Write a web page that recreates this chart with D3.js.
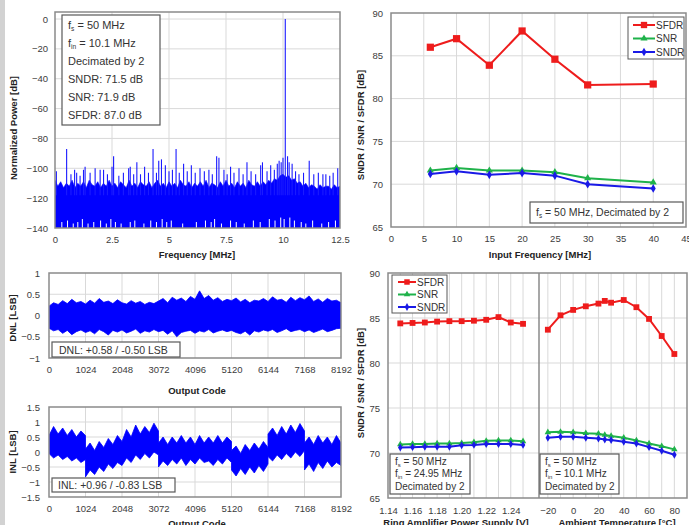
<!DOCTYPE html>
<html><head><meta charset="utf-8">
<script src="https://cdn.jsdelivr.net/npm/d3@7"></script>
<style>body{margin:0;background:#fff;} svg{display:block;font-family:"Liberation Sans",Arial,sans-serif;}</style>
</head><body><svg id="c" width="689" height="525"></svg>
<script>
// ---------- DATA ----------
const fftXTicks=[0,2.5,5,7.5,10,12.5];
const fftYTicks=[0,-20,-40,-60,-80,-100,-120,-140];
const fftBinStep=0.125;
const fftFloor=[
-108,-112,-109,-113,-110,-112,-108,-113,
-110,-112,-109,-113,-108,-111,-112,-109,
-113,-110,-112,-108,-112,-110,-113,-109,
-111,-113,-108,-112,-110,-113,-109,-111,
-112,-109,-113,-110,-108,-112,-110,-113,
-109,-112,-110,-113,-108,-111,-112,-109,
-113,-110,-112,-109,-112,-108,-113,-110,
-111,-113,-109,-112,-108,-112,-110,-113,
-109,-112,-110,-113,-108,-111,-112,-109,
-112,-109,-111,-108,-110,-107,-108,-105,
-104,-106,-105,-108,-107,-110,-109,-112,
-110,-113,-111,-112,-114,-111,-113,-112,
-112,-114,-111,-113,-112];
const fftSpurs=[[0.06,-102],[0.51,-87],[0.7,-104],[0.86,-101],[0.95,-103],[1.1,-105],[1.25,-101],[1.32,-99],[1.54,-103],[1.76,-100],[1.98,-101],[2.13,-101],[2.3,-104],[2.5,-99],[2.57,-92],[2.8,-105],[3.0,-103],[3.23,-100],[3.3,-99],[3.45,-104],[3.59,-96],[3.75,-104],[3.93,-99],[4.1,-103],[4.3,-87],[4.45,-103],[4.55,-95],[4.67,-94],[4.84,-98],[5.0,-102],[5.15,-101],[5.31,-87],[5.45,-103],[5.64,-97],[5.8,-102],[5.98,-98],[6.15,-103],[6.36,-100],[6.55,-102],[6.75,-101],[6.9,-104],[7.09,-92],[7.19,-93],[7.41,-101],[7.55,-104],[7.7,-99],[7.85,-103],[8.07,-100],[8.25,-104],[8.42,-96],[8.6,-102],[8.8,-104],[9.02,-98],[9.1,-96],[9.3,-102],[9.46,-98],[9.62,-101],[9.75,-97],[9.83,-95],[9.92,-96],[10.0,-93],[10.1,0],[10.2,-92],[10.27,-96],[10.4,-97],[10.55,-102],[10.7,-104],[10.9,-103],[11.15,-95],[11.35,-104],[11.55,-103],[11.75,-104],[11.88,-104],[12.05,-105],[12.2,-103],[12.4,-100]];
const fftDips=[[0.3,-136],[0.55,-135],[0.8,-137],[1.0,-136],[1.2,-134],[1.45,-137],[1.7,-136],[2.0,-135],[2.25,-137],[2.45,-134],[2.65,-136],[2.9,-137],[3.3,-136],[3.5,-135],[3.9,-137],[4.2,-135],[4.45,-136],[4.7,-134],[4.9,-136],[5.1,-135],[5.6,-137],[6.2,-136],[6.6,-135],[6.85,-136],[7.0,-134],[7.3,-137],[7.7,-135],[7.95,-136],[8.3,-137],[8.7,-135],[9.0,-136],[9.4,-134],[9.65,-135],[9.9,-133],[10.05,-134],[10.3,-133],[10.5,-135],[10.8,-136],[11.0,-137],[11.3,-135],[11.7,-137],[12.0,-136],[12.3,-135]];
const fftInfo=[["f","s"," = 50 MHz"],["f","in"," = 10.1 MHz"],["Decimated by 2"],["SNDR: 71.5 dB"],["SNR: 71.9 dB"],["SFDR: 87.0 dB"]];

const finTicks=[0,5,10,15,20,25,30,35,40,45];
const finYTicks=[65,70,75,80,85,90];
const finMHz=[6,10,15,20,25,30,40];
const finSFDR=[86.0,87.0,83.9,87.9,84.6,81.6,81.7];
const finSNR=[71.6,71.9,71.6,71.6,71.4,70.7,70.2];
const finSNDR=[71.2,71.5,71.1,71.3,71.0,70.0,69.5];

const codeTicks=[0,1024,2048,3072,4096,5120,6144,7168,8192];
const dnlYTicks=[-1,-0.5,0,0.5,1];
const dnlStep=128;
const dnlHi=[0.22,0.30,0.26,0.35,0.28,0.38,0.30,0.33,
0.27,0.36,0.29,0.40,0.31,0.34,0.28,0.37,
0.30,0.27,0.35,0.29,0.33,0.26,0.31,0.28,
0.34,0.40,0.30,0.43,0.36,0.41,0.33,0.45,
0.38,0.58,0.40,0.47,0.36,0.42,0.33,0.38,
0.35,0.41,0.32,0.38,0.30,0.36,0.34,0.40,
0.33,0.44,0.36,0.38,0.31,0.43,0.35,0.42,
0.37,0.46,0.33,0.39,0.31,0.40,0.34,0.36,0.30];
const dnlLo=[-0.30,-0.36,-0.33,-0.42,-0.35,-0.45,-0.38,-0.34,
-0.40,-0.36,-0.43,-0.33,-0.38,-0.46,-0.35,-0.39,
-0.34,-0.41,-0.37,-0.32,-0.42,-0.36,-0.39,-0.33,
-0.38,-0.35,-0.44,-0.36,-0.50,-0.40,-0.37,-0.35,
-0.42,-0.36,-0.39,-0.33,-0.41,-0.37,-0.34,-0.38,
-0.35,-0.40,-0.43,-0.37,-0.46,-0.36,-0.39,-0.34,
-0.37,-0.33,-0.40,-0.36,-0.31,-0.38,-0.35,-0.33,
-0.38,-0.34,-0.40,-0.36,-0.32,-0.38,-0.35,-0.31,-0.30];
const inlYTicks=[-1.5,-1,-0.5,0,0.5,1,1.5];
const inlEnv=[[0,-0.05,0.55],[128,-0.2,0.85],[256,-0.1,0.6],[384,-0.25,0.8],[512,-0.15,0.55],[640,-0.3,0.75],[768,-0.2,0.5],[896,-0.35,0.7],[1024,-0.25,0.55],
[1024,-0.83,0.1],[1152,-0.6,0.3],[1280,-0.75,0.05],[1408,-0.5,0.35],[1536,-0.65,0.15],[1664,-0.4,0.45],[1792,-0.55,0.25],[1920,-0.35,0.55],[2048,-0.45,0.35],[2176,-0.2,0.75],[2304,-0.35,0.5],[2432,-0.1,0.9],[2560,-0.25,0.6],[2688,-0.05,0.85],[2816,-0.2,0.65],[2944,0.0,0.96],[3072,-0.1,0.7],
[3072,-0.5,0.3],[3200,-0.3,0.5],[3328,-0.45,0.25],[3456,-0.25,0.5],[3584,-0.4,0.3],[3712,-0.2,0.55],[3840,-0.45,0.3],[3968,-0.25,0.5],[4096,-0.4,0.25],[4224,-0.2,0.55],[4352,-0.35,0.3],[4480,-0.3,0.5],[4608,-0.45,0.3],[4736,-0.25,0.55],[4864,-0.4,0.3],[4992,-0.2,0.5],[5120,-0.35,0.35],
[5120,-0.6,0.05],[5248,-0.8,0.2],[5376,-0.55,-0.05],[5504,-0.75,0.25],[5632,-0.5,0.05],[5760,-0.7,0.3],[5888,-0.45,0.1],[6016,-0.65,0.35],[6144,-0.4,0.15],
[6144,-0.15,0.6],[6272,-0.3,0.8],[6400,-0.1,0.55],[6528,-0.25,0.85],[6656,-0.05,0.6],[6784,-0.2,0.9],[6912,0.0,0.65],[7040,-0.15,0.95],[7168,0.05,0.7],
[7168,-0.6,0.3],[7296,-0.4,0.5],[7424,-0.65,0.25],[7552,-0.35,0.55],[7680,-0.55,0.3],[7808,-0.3,0.5],[7936,-0.5,0.25],[8064,-0.35,0.55],[8192,-0.45,0.3]];

const vddTicks=[1.14,1.16,1.18,1.20,1.22,1.24];
const vddGrid=[1.15,1.16,1.17,1.18,1.19,1.20,1.21,1.22,1.23,1.24,1.25,1.26];
const vdd=[1.15,1.16,1.17,1.18,1.19,1.20,1.21,1.22,1.23,1.24,1.25];
const vddSFDR=[84.4,84.45,84.5,84.6,84.65,84.65,84.7,84.8,85.1,84.5,84.35];
const vddSNR=[70.95,71.0,71.0,71.05,71.05,71.1,71.2,71.35,71.4,71.4,71.3];
const vddSNDR=[70.6,70.65,70.7,70.7,70.7,70.85,70.9,71.0,71.0,71.0,70.9];
const tempTicks=[-20,0,20,40,60,80];
const tempGrid=[-20,-10,0,10,20,30,40,50,60,70,80];
const temp=[-20,-10,0,10,20,25,30,40,50,60,70,80];
const tSFDR=[83.7,85.3,85.9,86.3,86.6,86.9,86.7,87.0,86.2,84.9,83.0,81.0];
const tSNR=[72.3,72.35,72.3,72.2,72.15,72.0,71.9,71.7,71.4,71.05,70.75,70.4];
const tSNDR=[71.7,71.8,71.8,71.7,71.6,71.5,71.45,71.25,71.05,70.65,70.25,69.8];
const seriesNames=["SFDR","SNR","SNDR"];

// ---------- STYLE ----------
const C={grid:"#d9d9d9",frame:"#8a8a8a",tick:"#3c3c3c",blue:"#0000ff",red:"#ee1c1c",green:"#1fb24a",sblue:"#1a1ae6",box:"#595959"};
const svg=d3.select("#c");
svg.append("rect").attr("width",689).attr("height",525).attr("fill","#fff");
svg.append("rect").attr("x",0).attr("y",0).attr("width",5).attr("height",525).attr("fill","#d2d2d2");
const defs=svg.append("defs");
function clip(id,x0,y0,x1,y1){defs.append("clipPath").attr("id",id).append("rect").attr("x",x0).attr("y",y0).attr("width",x1-x0).attr("height",y1-y0);}

function gridLines(g,x,y,xs,ys,x0,x1,y0,y1){
  g.selectAll(null).data(xs).enter().append("line").attr("x1",d=>x(d)).attr("x2",d=>x(d)).attr("y1",y0).attr("y2",y1).attr("stroke",C.grid).attr("stroke-width",1);
  g.selectAll(null).data(ys).enter().append("line").attr("y1",d=>y(d)).attr("y2",d=>y(d)).attr("x1",x0).attr("x2",x1).attr("stroke",C.grid).attr("stroke-width",1);
}
function axisL(x,y,ticks,fmt,pad){
  const a=svg.append("g").attr("transform",`translate(${x},0)`).call(d3.axisLeft(y).tickValues(ticks).tickSize(0).tickPadding(pad).tickFormat(fmt));
  a.select(".domain").remove();
  a.selectAll("text").attr("font-size",9.5).attr("fill",C.tick).attr("font-family","Liberation Sans, Arial, sans-serif");
}
function axisB(y,x,ticks,fmt,pad){
  const a=svg.append("g").attr("transform",`translate(0,${y})`).call(d3.axisBottom(x).tickValues(ticks).tickSize(0).tickPadding(pad).tickFormat(fmt));
  a.select(".domain").remove();
  a.selectAll("text").attr("font-size",9.5).attr("fill",C.tick).attr("font-family","Liberation Sans, Arial, sans-serif");
}
function frameRect(x0,y0,x1,y1){svg.append("rect").attr("x",x0).attr("y",y0).attr("width",x1-x0).attr("height",y1-y0).attr("fill","none").attr("stroke",C.frame).attr("stroke-width",1.5);}
function titleB(txt,cx,y){svg.append("text").attr("x",cx).attr("y",y).attr("text-anchor","middle").attr("font-size",9.5).attr("font-weight","bold").attr("fill","#222").text(txt);}
function titleL(txt,x,cy){svg.append("text").attr("transform",`translate(${x},${cy}) rotate(-90)`).attr("text-anchor","middle").attr("font-size",9.5).attr("font-weight","bold").attr("fill","#222").text(txt);}
function richLine(t,parts,fs){
  parts.forEach((p,i)=>{
    const s=t.append("tspan").text(p);
    if(parts.length>1&&i===1){s.attr("font-size",fs*0.6).attr("dy",1.8);}
    if(parts.length>1&&i===2){s.attr("dy",-1.8);}
  });
}
function infoBox(x0,y0,x1,y1,lines,tx,ty0,dy,fs){
  svg.append("rect").attr("x",x0).attr("y",y0).attr("width",x1-x0).attr("height",y1-y0).attr("fill","#fff").attr("stroke",C.box).attr("stroke-width",1.2);
  lines.forEach((ln,i)=>{
    const t=svg.append("text").attr("x",tx).attr("y",ty0+i*dy).attr("font-size",fs).attr("fill","#333");
    richLine(t,ln,fs);
  });
}

// ---------- PANEL 1: FFT ----------
{
  const x=d3.scaleLinear().domain([0,12.5]).range([55,340]);
  const y=d3.scaleLinear().domain([-140,4.7]).range([228,12]);
  const g=svg.append("g");
  gridLines(g,x,y,fftXTicks.slice(1,-1),fftYTicks.slice(0,-1),55,340,12,228);
  clip("cp1",55,12,340,228);
  const d=svg.append("g").attr("clip-path","url(#cp1)");
  const floor=fftFloor.map((v,i)=>({f:i*fftBinStep,v}));
  d.append("path").datum(floor).attr("d",d3.area().x(p=>x(p.f)).y0(y(-140)).y1(p=>y(p.v))).attr("fill",C.blue).attr("stroke",C.blue).attr("stroke-width",0.6);
  d.selectAll(null).data(fftSpurs).enter().append("line").attr("x1",p=>x(p[0])).attr("x2",p=>x(p[0])).attr("y1",y(-118)).attr("y2",p=>y(p[1])).attr("stroke","#1a1aff").attr("stroke-width",1.1);
  d.selectAll(null).data(fftDips).enter().append("line").attr("x1",p=>x(p[0])).attr("x2",p=>x(p[0])).attr("y1",y(-140)).attr("y2",p=>y(p[1])).attr("stroke","#fff").attr("stroke-width",1);
  frameRect(55,12,340,228);
  axisL(55,y,fftYTicks,d3.format("d"),7);
  axisB(228,x,fftXTicks,d3.format("~g"),8);
  titleB("Frequency [MHz]",197,258);
  titleL("Normalized Power [dB]",17,128);
  infoBox(62,15,160,125,fftInfo,68,29,18,11);
}

// ---------- PANEL 2: vs input frequency ----------
function drawSeries(g,x,y,xs,vals,color,sym,size,w){
  const pts=xs.map((v,i)=>[v,vals[i]]);
  g.append("path").datum(pts).attr("d",d3.line().x(p=>x(p[0])).y(p=>y(p[1]))).attr("fill","none").attr("stroke",color).attr("stroke-width",w);
  g.selectAll(null).data(pts).enter().append("path").attr("transform",p=>`translate(${x(p[0])},${y(p[1])})`).attr("d",d3.symbol(sym,size)).attr("fill",color);
}
{
  const x=d3.scaleLinear().domain([0,45]).range([391,686]);
  const y=d3.scaleLinear().domain([65,90]).range([227,13]);
  const g=svg.append("g");
  gridLines(g,x,y,finTicks.slice(1,-1),finYTicks.slice(1,-1),391,686,13,227);
  drawSeries(g,x,y,finMHz,finSNR,C.green,d3.symbolTriangle,22,2);
  drawSeries(g,x,y,finMHz,finSNDR,C.sblue,d3.symbolDiamond,22,2);
  drawSeries(g,x,y,finMHz,finSFDR,C.red,d3.symbolSquare,52,2);
  frameRect(391,13,686,227);
  axisL(391,y,finYTicks,d3.format("d"),8);
  axisB(227,x,finTicks,d3.format("d"),8);
  titleB("Input Frequency [MHz]",540,258);
  titleL("SNDR / SNR / SFDR [dB]",364,125);
  svg.append("rect").attr("x",628).attr("y",17).attr("width",56).attr("height",42).attr("fill","#fff").attr("stroke",C.box).attr("stroke-width",1);
  const cols=[C.red,C.green,C.sblue], syms=[d3.symbolSquare,d3.symbolTriangle,d3.symbolDiamond], ss=[40,22,22];
  seriesNames.forEach((n,i)=>{
    const yy=25+i*13.5;
    svg.append("line").attr("x1",633).attr("x2",655).attr("y1",yy).attr("y2",yy).attr("stroke",cols[i]).attr("stroke-width",2);
    svg.append("path").attr("transform",`translate(644,${yy})`).attr("d",d3.symbol(syms[i],ss[i])).attr("fill",cols[i]);
    svg.append("text").attr("x",656).attr("y",yy+3.5).attr("font-size",10).attr("fill","#333").text(n);
  });
  infoBox(530,202,683,223,[["f","s"," = 50 MHz, Decimated by 2"]],536,216,0,10.5);
}

// ---------- PANEL 3: DNL ----------
{
  const x=d3.scaleLinear().domain([0,8192]).range([49,341]);
  const y=d3.scaleLinear().domain([-1,1]).range([358,273]);
  const g=svg.append("g");
  gridLines(g,x,y,codeTicks.slice(1,-1),dnlYTicks.slice(1,-1),49,341,273,358);
  clip("cp3",49,273,341,358);
  const d=svg.append("g").attr("clip-path","url(#cp3)");
  const pts=dnlHi.map((v,i)=>({c:i*dnlStep,hi:v,lo:dnlLo[i]}));
  d.append("path").datum(pts).attr("d",d3.area().x(p=>x(p.c)).y0(p=>y(p.lo)).y1(p=>y(p.hi))).attr("fill",C.blue).attr("stroke",C.blue).attr("stroke-width",0.8);
  frameRect(49,273,341,358);
  axisL(49,y,dnlYTicks,d3.format("~g"),9);
  axisB(358,x,codeTicks,d3.format("d"),8);
  titleB("Output Code",197,394);
  titleL("DNL [LSB]",16,318);
  infoBox(52,342,180,357,[["DNL: +0.58 / -0.50 LSB"]],59,354,0,10.5);
}

// ---------- PANEL 4: INL ----------
{
  const x=d3.scaleLinear().domain([0,8192]).range([49,341]);
  const y=d3.scaleLinear().domain([-1.5,1.5]).range([497,407]);
  const g=svg.append("g");
  gridLines(g,x,y,codeTicks.slice(1,-1),inlYTicks.slice(1,-1),49,341,407,497);
  clip("cp4",49,407,341,497);
  const d=svg.append("g").attr("clip-path","url(#cp4)");
  d.append("path").datum(inlEnv).attr("d",d3.area().x(p=>x(p[0])).y0(p=>y(p[1])).y1(p=>y(p[2]))).attr("fill",C.blue).attr("stroke",C.blue).attr("stroke-width",0.8);
  frameRect(49,407,341,497);
  axisL(49,y,inlYTicks,d3.format("~g"),9);
  axisB(497,x,codeTicks,d3.format("d"),8);
  titleB("Output Code",197,527);
  titleL("INL [LSB]",16,452);
  infoBox(52,478,175,492,[["INL: +0.96 / -0.83 LSB"]],58,489,0,10.5);
}

// ---------- PANEL 5: vs supply / temperature ----------
{
  const xl=d3.scaleLinear().domain([1.14,1.263]).range([388,539]);
  const xr=d3.scaleLinear().domain([-27,90]).range([539,687]);
  const y=d3.scaleLinear().domain([65,90]).range([498,273]);
  const g=svg.append("g");
  gridLines(g,xl,y,vddGrid.filter(v=>v<1.26),finYTicks.slice(1,-1),388,687,273,498);
  gridLines(g,xr,y,tempGrid,[],539,687,273,498);
  drawSeries(g,xl,y,vdd,vddSNR,C.green,d3.symbolTriangle,18,2);
  drawSeries(g,xl,y,vdd,vddSNDR,C.sblue,d3.symbolDiamond,18,2);
  drawSeries(g,xl,y,vdd,vddSFDR,C.red,d3.symbolSquare,34,2);
  drawSeries(g,xr,y,temp,tSNR,C.green,d3.symbolTriangle,18,2);
  drawSeries(g,xr,y,temp,tSNDR,C.sblue,d3.symbolDiamond,18,2);
  drawSeries(g,xr,y,temp,tSFDR,C.red,d3.symbolSquare,34,2);
  frameRect(388,273,687,498);
  svg.append("line").attr("x1",539).attr("x2",539).attr("y1",273).attr("y2",498).attr("stroke",C.frame).attr("stroke-width",1.5);
  axisL(388,y,finYTicks,d3.format("d"),8);
  axisB(498,xl,vddTicks,d3.format(".2f"),9);
  axisB(498,xr,tempTicks,d3.format("d"),9);
  titleB("Ring Amplifier Power Supply [V]",456,526);
  titleB("Ambient Temperature [°C]",617,526);
  titleL("SNDR / SNR / SFDR [dB]",364,383);
  svg.append("rect").attr("x",392).attr("y",275).attr("width",55).attr("height",38).attr("fill","#fff").attr("stroke",C.box).attr("stroke-width",1);
  const cols=[C.red,C.green,C.sblue], syms=[d3.symbolSquare,d3.symbolTriangle,d3.symbolDiamond], ss=[30,18,18];
  seriesNames.forEach((n,i)=>{
    const yy=282+i*12.5;
    svg.append("line").attr("x1",398).attr("x2",416).attr("y1",yy).attr("y2",yy).attr("stroke",cols[i]).attr("stroke-width",2);
    svg.append("path").attr("transform",`translate(407,${yy})`).attr("d",d3.symbol(syms[i],ss[i])).attr("fill",cols[i]);
    svg.append("text").attr("x",417).attr("y",yy+3.5).attr("font-size",10).attr("fill","#333").text(n);
  });
  infoBox(390,454,470,494,[["f","s"," = 50 MHz"],["f","in"," = 24.95 MHz"],["Decimated by 2"]],395,465,12.3,10);
  infoBox(540,454,619,494,[["f","s"," = 50 MHz"],["f","in"," = 10.1 MHz"],["Decimated by 2"]],545,465,12.3,10);
}
</script></body></html>
